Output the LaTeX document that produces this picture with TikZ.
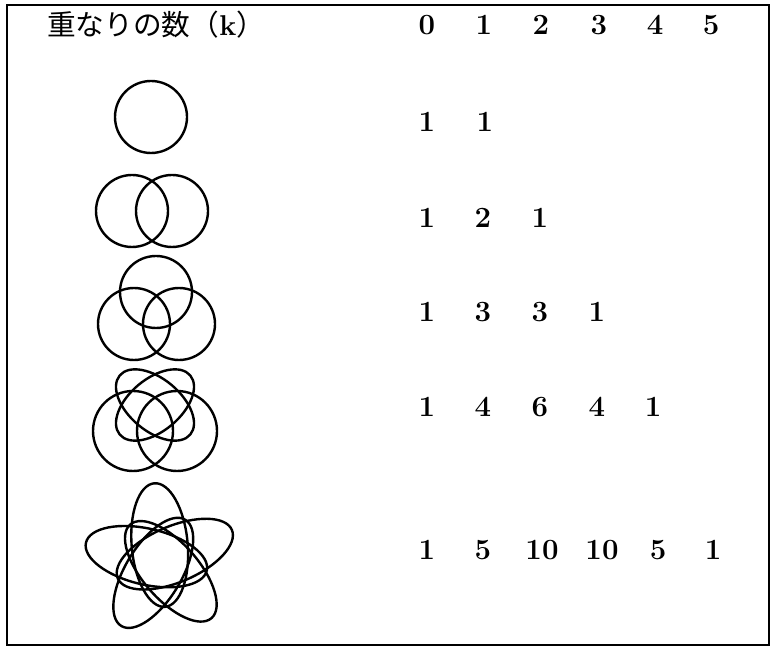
\documentclass[tikz,border=0pt]{standalone}
\usepackage{fontspec}
\newfontfamily\jpfont{Noto Sans CJK JP}
\begin{document}
\begin{tikzpicture}[x=0.75pt,y=-0.75pt,
  curve/.style={line width=1.8pt},
  frameline/.style={line width=1.5pt},
  num/.style={font=\fontsize{22}{26}\selectfont\bfseries, inner sep=0pt}]
\useasboundingbox (0,0) rectangle (771,648);
\draw[frameline] (7,5) rectangle (769,645);
% header
\node[anchor=west, inner sep=0pt, font=\fontsize{21.5}{26}\selectfont] (title) at (47,25)
  {\jpfont 重なりの数（{\rmfamily\bfseries k}）};
\foreach \k/\x in {0/427,1/484,2/541,3/599,4/655,5/711}
  \node[num] (h\k) at (\x,25) {\k};
% rows of numbers
\node[num] (r1a) at (427,122) {1};
\node[num] (r1b) at (485,122) {1};
\node[num] (r2a) at (427,218) {1};
\node[num] (r2b) at (483,218) {2};
\node[num] (r2c) at (540,218) {1};
\node[num] (r3a) at (427,312) {1};
\node[num] (r3b) at (483,312) {3};
\node[num] (r3c) at (540,312) {3};
\node[num] (r3d) at (597,312) {1};
\node[num] (r4a) at (427,407) {1};
\node[num] (r4b) at (483,407) {4};
\node[num] (r4c) at (540,407) {6};
\node[num] (r4d) at (597,407) {4};
\node[num] (r4e) at (653,407) {1};
\node[num] (r5a) at (427,550) {1};
\node[num] (r5b) at (483,550) {5};
\node[num] (r5c) at (542,550) {10};
\node[num] (r5d) at (602,550) {10};
\node[num] (r5e) at (658,550) {5};
\node[num] (r5f) at (713,550) {1};
% one set
\draw[curve] (151,117) circle[radius=36];
% two sets
\draw[curve] (132,211) circle[radius=36];
\draw[curve] (172,211) circle[radius=36];
% three sets
\draw[curve] (156,292) circle[radius=36];
\draw[curve] (134,324) circle[radius=36];
\draw[curve] (179,324) circle[radius=36];
% four sets
\draw[curve] (133,431) circle[radius=40];
\draw[curve] (177,431) circle[radius=40];
\coordinate (e4) at (155,405);
\draw[curve, rotate around={-40:(e4)}] (e4) ellipse[x radius=46, y radius=26];
\draw[curve, rotate around={40:(e4)}] (e4) ellipse[x radius=46, y radius=26];
% five sets
\foreach \k in {0,...,4}{
  \pgfmathsetmacro\ang{95+72*\k}
  \coordinate (s\k) at ({161+15*cos(\ang)},{560-15*sin(\ang)});
  \draw[curve, rotate around={\ang:(s\k)}] (s\k) ellipse[x radius=62, y radius=28];
}
\end{tikzpicture}
\end{document}
